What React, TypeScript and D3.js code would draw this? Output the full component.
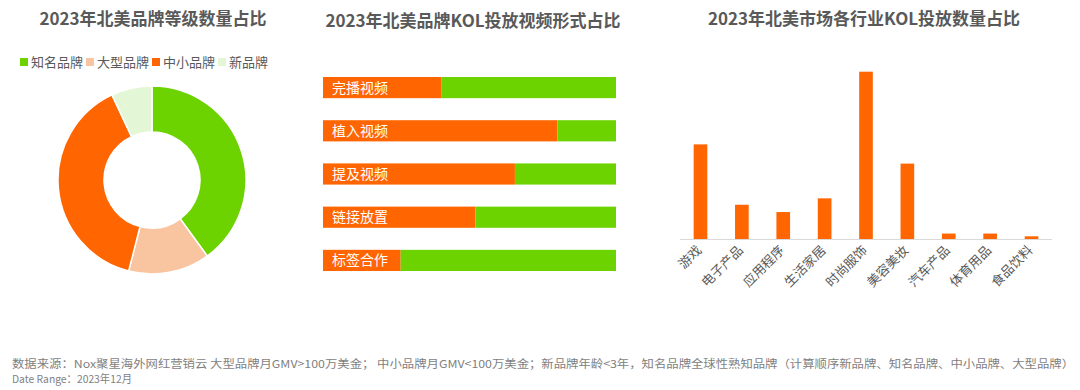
import React from "react";
import * as d3 from "d3";

// donut: brand tiers
const tierNames = ["知名品牌", "大型品牌", "中小品牌", "新品牌"];
const tierShares = [40, 14, 39, 7];
const tierColors = ["#6CD300", "#F9C5A1", "#FF6501", "#E3F7D6"];

// stacked bars: video formats (orange share vs green rest)
const formatNames = ["完播视频", "植入视频", "提及视频", "链接放置", "标签合作"];
const formatShares = [40.5, 80, 65.5, 52, 26.5];

// columns: industries
const industries = ["游戏", "电子产品", "应用程序", "生活家居", "时尚服饰", "美容美妆", "汽车产品", "体育用品", "食品饮料"];
const industryShares = [20.8, 7.6, 6.0, 9.0, 36.7, 16.6, 1.3, 1.3, 0.7];

const titles = [
  "2023年北美品牌等级数量占比",
  "2023年北美品牌KOL投放视频形式占比",
  "2023年北美市场各行业KOL投放数量占比",
];
const noteLines = [
  "数据来源：Nox聚星海外网红营销云 大型品牌月GMV>100万美金； 中小品牌月GMV<100万美金；新品牌年龄<3年，知名品牌全球性熟知品牌（计算顺序新品牌、知名品牌、中小品牌、大型品牌）",
  "Date Range：2023年12月",
];

const FONT = "'Noto Sans CJK SC', 'Noto Sans', sans-serif";
const GREY = "#595959";
const ORANGE = "#FF6501";
const GREEN = "#6CD300";

function Donut() {
  const cx = 152, cy = 180;
  const pie = d3.pie<number>().sort(null).value(d => d);
  const arc = d3.arc<d3.PieArcDatum<number>>().innerRadius(48).outerRadius(94);
  const arcs = pie(tierShares);
  const legendX = [20, 86, 152, 218];
  return (
    <g>
      <text x={153} y={25} textAnchor="middle" fontSize={17} fontWeight="bold" fill={GREY}>{titles[0]}</text>
      {tierNames.map((n, i) => (
        <g key={n} transform={`translate(${legendX[i]},63)`}>
          <rect x={0} y={-5} width={8} height={8} fill={tierColors[i]} />
          <text x={11} y={4} fontSize={13} fill={GREY}>{n}</text>
        </g>
      ))}
      <g transform={`translate(${cx},${cy})`}>
        {arcs.map((a, i) => (
          <path key={i} d={arc(a) || ""} fill={tierColors[i]} stroke="#fff" strokeWidth={1.5} />
        ))}
      </g>
    </g>
  );
}

function StackedBars() {
  const x = d3.scaleLinear().domain([0, 100]).range([323, 616]);
  const y = d3.scaleBand().domain(formatNames).range([77, 271]).paddingInner(0.51).paddingOuter(0);
  return (
    <g>
      <text x={473} y={27} textAnchor="middle" fontSize={17} fontWeight="bold" fill={GREY}>{titles[1]}</text>
      {formatNames.map((n, i) => (
        <g key={n}>
          <rect x={x(0)} y={y(n)} width={x(formatShares[i]) - x(0)} height={y.bandwidth()} fill={ORANGE} />
          <rect x={x(formatShares[i])} y={y(n)} width={x(100) - x(formatShares[i])} height={y.bandwidth()} fill={GREEN} />
          <text x={x(0) + 9} y={(y(n) || 0) + y.bandwidth() / 2 + 5} fontSize={14} fill="#fff">{n}</text>
        </g>
      ))}
    </g>
  );
}

function Columns() {
  const x = d3.scaleBand().domain(industries).range([680, 1052]).paddingInner(0.67).paddingOuter(0.33);
  const y = d3.scaleLinear().domain([0, 40]).range([239.5, 56.6]);
  return (
    <g>
      <text x={864} y={25} textAnchor="middle" fontSize={17} fontWeight="bold" fill={GREY}>{titles[2]}</text>
      {industries.map((n, i) => (
        <rect key={n} x={x(n)} y={y(industryShares[i])} width={x.bandwidth()} height={y(0) - y(industryShares[i])} fill={ORANGE} />
      ))}
      <line x1={680} x2={1052} y1={y(0)} y2={y(0)} stroke="#D9D9D9" strokeWidth={1} />
      {industries.map(n => {
        const cxp = (x(n) || 0) + x.bandwidth() / 2 + 2;
        return (
          <text key={n} transform={`translate(${cxp},251) rotate(-45)`} textAnchor="end" fontSize={13} fill={GREY}>{n}</text>
        );
      })}
    </g>
  );
}

export default function App() {
  return (
    <div style={{ position: "absolute", left: 0, top: 0 }}>
      <svg width={1080} height={390} style={{ display: "block", fontFamily: FONT }}>
        <rect width={1080} height={390} fill="#fff" />
        <Donut />
        <StackedBars />
        <Columns />
        <text x={12} y={368} fontSize={11} fill="#7F7F7F" textLength={1062} lengthAdjust="spacingAndGlyphs">{noteLines[0]}</text>
        <text x={12} y={383} fontSize={11} fill="#7F7F7F" textLength={120} lengthAdjust="spacingAndGlyphs">{noteLines[1]}</text>
      </svg>
    </div>
  );
}
